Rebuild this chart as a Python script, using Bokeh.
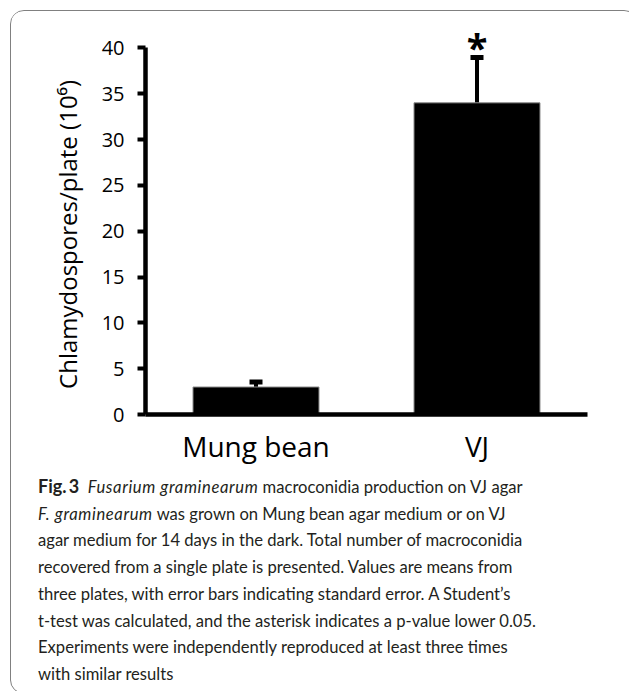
from bokeh.plotting import figure
from bokeh.models import ColumnDataSource, Whisker, TeeHead, Div, FactorRange, Range1d, FixedTicker
from bokeh.layouts import column
from bokeh.core.properties import value
from bokeh.embed import file_html
from bokeh.resources import INLINE

# ---- data ----
categories = ["Mung bean", "VJ"]
means = [3.0, 34.0]
std_errors = [0.55, 4.95]
significance = ["", "*"]
y_ticks = [0, 5, 10, 15, 20, 25, 30, 35, 40]
y_label = "Chlamydospores/plate (10\u2076)"

IT = '<i style="letter-spacing:0.6px">'
caption_html = (
    "<b style=\"font-size:18px\">Fig.&#8201;3</b>&nbsp;&nbsp;" + IT + "Fusarium graminearum</i> macroconidia production on VJ agar<br>"
    + IT + "F. graminearum</i> was grown on Mung bean agar medium or on VJ<br>"
    "agar medium for 14 days in the dark. Total number of macroconidia<br>"
    "recovered from a single plate is presented. Values are means from<br>"
    "three plates, with error bars indicating standard error. A Student\u2019s<br>"
    "t-test was calculated, and the asterisk indicates a p-value lower 0.05.<br>"
    "Experiments were independently reproduced at least three times<br>"
    "with similar results"
)

FONT = "Open Sans"
CAP_FONT = "Lato"
upper = [m + e for m, e in zip(means, std_errors)]
star_y = [u + 1.1 for u in upper]
src = ColumnDataSource(dict(cat=categories, mean=means, upper=upper,
                            star=significance, star_y=star_y))

p = figure(x_range=FactorRange(*categories), y_range=Range1d(0, 42),
           width=616, height=456, output_backend="svg", toolbar_location=None,
           min_border_left=134, min_border_right=40, min_border_top=18,
           min_border_bottom=53)
p.outline_line_color = None
p.xgrid.grid_line_color = None
p.ygrid.grid_line_color = None
p.background_fill_color = "white"
p.border_fill_color = "white"

p.vbar(x="cat", top="mean", bottom=0, width=0.57, source=src,
       fill_color="black", line_color="#8a8a8a", line_width=1)

p.add_layout(Whisker(source=src, base="cat", lower="mean", upper="upper",
                     dimension="height", line_color="black", line_width=4,
                     upper_head=TeeHead(size=13, line_width=5, line_color="black"),
                     lower_head=None))

p.text(x="cat", y="star_y", text="star", source=src,
       text_font=value(FONT), text_font_size="38px", text_font_style="bold",
       text_align="center", text_baseline="middle", text_color="black")

ya = p.yaxis[0]
ya.ticker = FixedTicker(ticks=y_ticks)
ya.bounds = (0, 40)
ya.axis_line_width = 4.5
ya.axis_line_color = "black"
ya.major_tick_line_width = 4
ya.major_tick_out = 8
ya.major_tick_in = 0
ya.minor_tick_line_color = None
ya.major_label_text_font = FONT
ya.major_label_text_font_size = "20px"
ya.major_label_text_color = "black"
ya.major_label_standoff = 13
ya.axis_label = y_label + "\u00a0\u00a0\u00a0\u00a0"
ya.axis_label_text_font = FONT
ya.axis_label_text_font_size = "24px"
ya.axis_label_text_font_style = "normal"
ya.axis_label_text_color = "black"
ya.axis_label_standoff = 15

xa = p.xaxis[0]
xa.axis_line_width = 4.5
xa.axis_line_color = "black"
xa.major_tick_line_color = None
xa.minor_tick_line_color = None
xa.major_label_text_font = FONT
xa.major_label_text_font_size = "28px"
xa.major_label_text_color = "black"
xa.major_label_standoff = 6

caption = Div(text=caption_html, width=616,
              styles={"font-family": CAP_FONT, "font-size": "16.6px",
                      "line-height": "26.7px", "color": "#231f20",
                      "padding-left": "22px", "padding-top": "1px",
                      "white-space": "nowrap"})

layout = column(p, caption,
                styles={"border": "1.5px solid #808080", "border-radius": "14px",
                        "margin-left": "10px", "margin-top": "10px",
                        "margin-bottom": "-40px", "background": "white",
                        "overflow": "hidden"})

open("out.html", "w").write(file_html(layout, INLINE))
